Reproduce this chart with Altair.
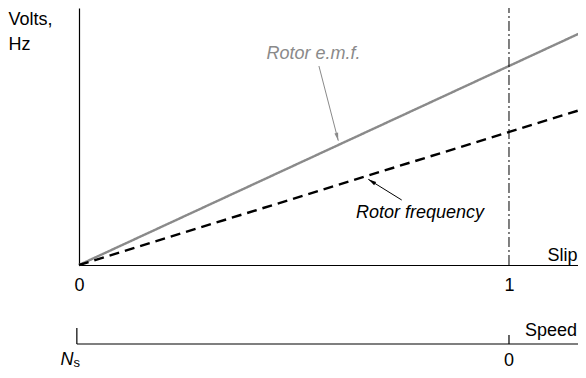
import altair as alt
import pandas as pd
import math

# ---- data (per-unit) ----
slip_pts = [0.0, 1.179]
emf_vals = [0.0, 1.179]          # rotor e.m.f. rises linearly with slip
freq_vals = [0.0, 0.788]         # rotor frequency rises linearly with slip
series_names = ["Rotor e.m.f.", "Rotor frequency"]

slip_ticks = [0, 1]
speed_ticks_slip = [-0.005, 1.0]      # where N_s and 0 sit on the slip scale
speed_tick_top = [-0.317, -0.352]
speed_axis_level = -0.397
speed_axis_end = 1.179

X_DOM = [0.0, 1.1605]
Y_DOM = [0.0, 1.2915]
FONT = "Liberation Sans"
GREY = "#8a8a8a"

lines_df = pd.DataFrame({
    "slip": slip_pts * 2,
    "value": emf_vals + freq_vals,
    "series": [series_names[0]] * 2 + [series_names[1]] * 2,
})

xs = alt.Scale(domain=X_DOM, nice=False, zero=False)
ys = alt.Scale(domain=Y_DOM, nice=False, zero=False)

X_AXIS = alt.Axis(
    values=slip_ticks, format="d",
    ticks=False, tickSize=0, grid=False, domainColor="black", domainWidth=1.2,
    labelFont=FONT, labelFontSize=18, labelColor="black", labelBaseline="alphabetic",
    labelPadding=25, labelFlush=False,
    title="Slip", titleFont=FONT, titleFontSize=18, titleFontWeight="normal",
    titleAnchor="end", titleAlign="right", titleBaseline="alphabetic",
    titleX=498, titleY=-5, titleColor="black")
Y_AXIS = alt.Axis(
    ticks=False, labels=False, grid=False, domainColor="black", domainWidth=1.2,
    title=["Volts,", "Hz"], titleAngle=0, titleAlign="left", titleBaseline="alphabetic",
    titleX=-71, titleY=16, titleFont=FONT, titleFontSize=18, titleFontWeight="normal",
    titleLineHeight=25, titleColor="black")


def X(field):
    return alt.X(field, type="quantitative", scale=xs, axis=X_AXIS)


def Y(field):
    return alt.Y(field, type="quantitative", scale=ys, axis=Y_AXIS)


col_scale = alt.Scale(domain=series_names, range=[GREY, "black"])

lines = alt.Chart(lines_df).mark_line(strokeWidth=2.4).encode(
    x=X("slip"), y=Y("value"),
    color=alt.Color("series:N", scale=col_scale, legend=None),
    strokeDash=alt.StrokeDash("series:N", scale=alt.Scale(domain=series_names, range=[[1, 0], [10, 6]]), legend=None),
)

# vertical dash-dot marker at slip = 1
marker_df = pd.DataFrame({"slip": [1.0], "value": [0.0]})
marker = alt.Chart(marker_df).mark_rule(color="black", strokeWidth=1, strokeDash=[10, 3, 2, 3]).encode(
    x=X("slip"), y=Y("value"), y2=alt.value(0),
)

# annotation arrows
arrow_df = pd.DataFrame({
    "slip": [0.558, 0.7505],
    "value": [1.0, 0.3266],
    "slip2": [0.603, 0.6728],
    "value2": [0.6246, 0.4307],
    "who": series_names,
})
px_x, px_y = 430.0, 199.0
arrow_df["angle"] = [
    (math.degrees(math.atan2((r.slip2 - r.slip) * px_x, (r.value2 - r.value) * px_y)) + 360) % 360
    for r in arrow_df.itertuples()
]
arrow_lines = alt.Chart(arrow_df).mark_rule(strokeWidth=1).encode(
    x=X("slip"), y=Y("value"), x2="slip2:Q", y2="value2:Q",
    color=alt.Color("who:N", scale=col_scale, legend=None),
)
arrow_heads = alt.Chart(arrow_df).mark_point(
    shape="M0,0L0.4,1.7L-0.4,1.7Z", filled=True, size=90, opacity=1
).encode(
    x=X("slip2"), y=Y("value2"),
    angle=alt.Angle("angle:Q", scale=None),
    color=alt.Color("who:N", scale=col_scale, legend=None),
)

label_df = pd.DataFrame({
    "slip": [0.5453, 0.793],
    "value": [1.035, 0.236],
    "text": series_names,
})
labels = alt.Chart(label_df).mark_text(font=FONT, fontSize=18, fontStyle="italic", align="center",
                                       baseline="alphabetic").encode(
    x=X("slip"), y=Y("value"), text="text:N",
    color=alt.Color("text:N", scale=col_scale, legend=None),
)

# speed axis (drawn below the slip axis)
speed_line_df = pd.DataFrame({"slip": [speed_ticks_slip[0]], "slip2": [speed_axis_end], "value": [speed_axis_level]})
speed_line = alt.Chart(speed_line_df).mark_rule(color="black", strokeWidth=1.2).encode(
    x=X("slip"), x2="slip2:Q", y=Y("value"),
)
speed_ticks_df = pd.DataFrame({"slip": speed_ticks_slip, "value": [speed_axis_level] * 2, "value2": speed_tick_top})
speed_ticks = alt.Chart(speed_ticks_df).mark_rule(color="black", strokeWidth=1.2).encode(
    x=X("slip"), y=Y("value"), y2="value2:Q",
)

speed_zero = alt.Chart(pd.DataFrame({"slip": [1.0], "value": [-0.5075], "text": ["0"]})).mark_text(
    font=FONT, fontSize=18, align="center", baseline="alphabetic", color="black").encode(
    x=X("slip"), y=Y("value"), text="text:N")
speed_n = alt.Chart(pd.DataFrame({"slip": [-0.0128], "value": [-0.5025], "text": ["N"]})).mark_text(
    font=FONT, fontSize=18, align="right", fontStyle="italic", baseline="alphabetic", color="black").encode(
    x=X("slip"), y=Y("value"), text="text:N")
speed_s = alt.Chart(pd.DataFrame({"slip": [-0.0128], "value": [-0.5126], "text": ["s"]})).mark_text(
    font=FONT, fontSize=13, align="left", baseline="alphabetic", color="black").encode(
    x=X("slip"), y=Y("value"), text="text:N")
speed_title = alt.Chart(pd.DataFrame({"slip": [1.1581], "value": [-0.3568], "text": ["Speed"]})).mark_text(
    font=FONT, fontSize=18, align="right", baseline="alphabetic", color="black").encode(
    x=X("slip"), y=Y("value"), text="text:N")

chart = alt.layer(
    lines, marker, arrow_lines, arrow_heads, labels,
    speed_line, speed_ticks, speed_zero, speed_n, speed_s, speed_title,
).properties(
    width=499, height=257,
    autosize=alt.AutoSizeParams(type="none"),
    padding={"left": 71, "top": 0, "right": 0, "bottom": 105},
    background="white",
).configure_view(stroke=None)

chart.save("out.html", embed_options={"renderer": "svg", "actions": False})
